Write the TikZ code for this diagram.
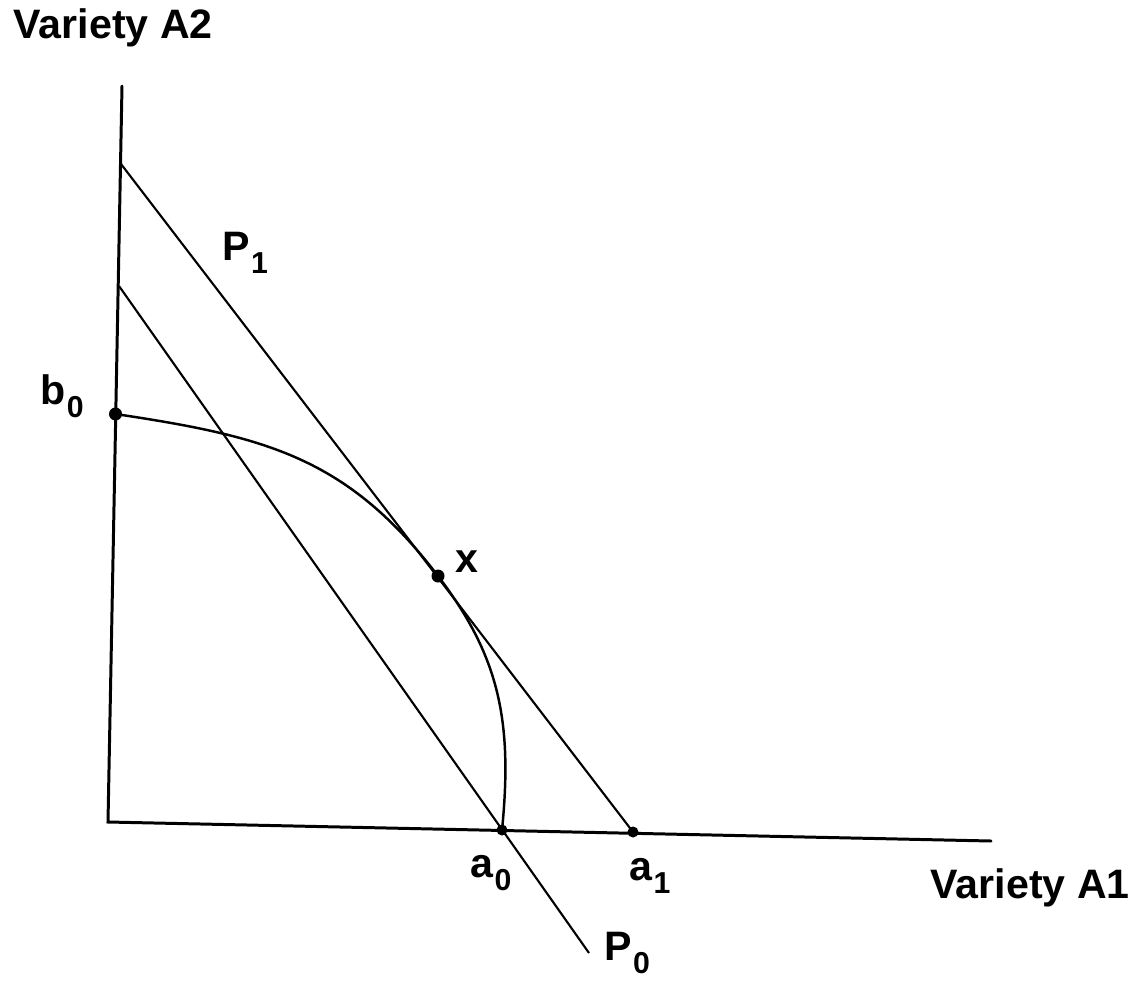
\documentclass[tikz,border=0pt]{standalone}
\usepackage{fontspec}
\setmainfont{Liberation Sans}
\newcommand\lblsub[1]{\kern0.3pt\raisebox{-3.8pt}{\fontsize{8.6pt}{9pt}\selectfont\bfseries #1}}
\begin{document}
\begin{tikzpicture}[x={(0.01cm,0)}, y={(0,-0.01cm)},
  axis/.style={line width=0.85pt, line cap=round, line join=miter},
  pline/.style={line width=0.6pt},
  curvestyle/.style={line width=0.7pt},
  dot/.style={circle, fill=black, inner sep=0pt, minimum size=0.11cm},
  bigdot/.style={circle, fill=black, inner sep=0pt, minimum size=0.13cm},
  lbl/.style={anchor=base west, inner sep=0pt, font=\fontsize{11.7pt}{14pt}\selectfont\bfseries}]
\useasboundingbox (0,0) rectangle (1143,982);
% axes
\coordinate (ytop) at (122,86);
\coordinate (O) at (108,822);
\coordinate (xend) at (991,841);
\draw[axis] (ytop) -- (O) -- (xend);
% points
\coordinate (b0c) at (115.5,414);
\coordinate (xc) at (438,576);
\coordinate (a0c) at (502,830);
\coordinate (a1c) at (633,832);
% budget lines
\coordinate (p1s) at (121,164);
\coordinate (p0s) at (119,286);
\coordinate (p0e) at (589,953);
\draw[pline] (p1s) -- (a1c);
\draw[pline] (p0s) -- (p0e);
% production possibility curve
\draw[curvestyle] (b0c) .. controls (265,436.5) and (347,456.8) .. (xc)
  .. controls (498.7,655.5) and (513,720) .. (a0c);
% dots
\node[bigdot] (b0) at (b0c) {};
\node[bigdot] (x) at (xc) {};
\node[dot] (a0) at (a0c) {};
\node[dot] (a1) at (a1c) {};
% labels
\node[lbl] (lA2) at (13,39) {Variety A2};
\node[lbl] (lA1) at (930,898) {Variety A1};
\node[lbl] (lb0) at (40,404) {b\lblsub{0}};
\node[lbl] (lP1) at (222,260) {P\lblsub{1}};
\node[lbl] (lx) at (455,572) {x};
\node[lbl] (la0) at (470,877) {a\lblsub{0}};
\node[lbl] (la1) at (629,880) {a\lblsub{1}};
\node[lbl] (lP0) at (604,960) {P\lblsub{0}};
\end{tikzpicture}
\end{document}
